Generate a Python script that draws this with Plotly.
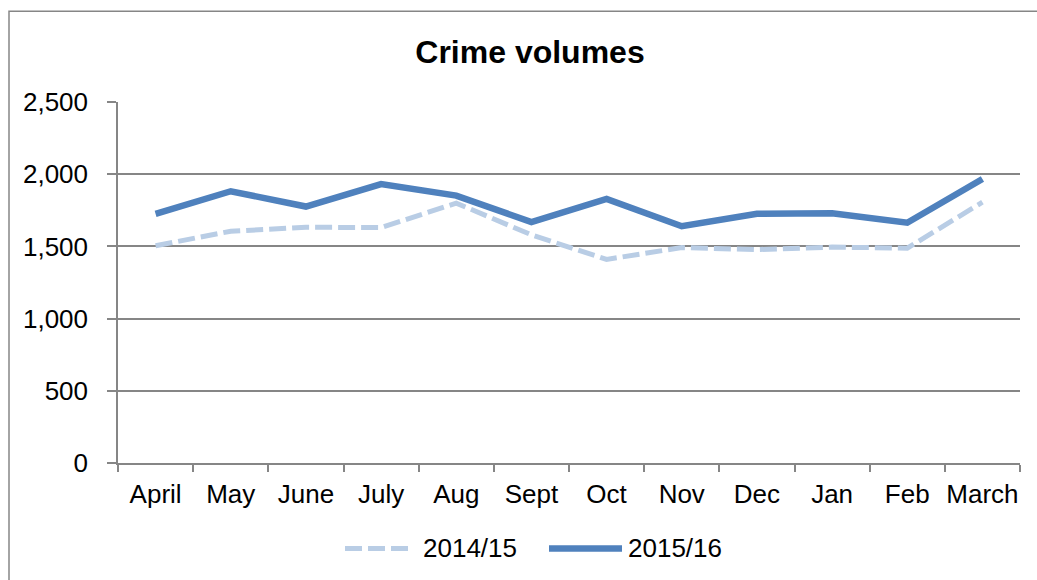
import plotly.graph_objects as go

# Monthly crime volumes, April to March
months = ["April", "May", "June", "July", "Aug", "Sept", "Oct", "Nov", "Dec", "Jan", "Feb", "March"]
vol_2014_15 = [1505, 1605, 1633, 1630, 1800, 1580, 1410, 1492, 1478, 1495, 1488, 1806]
vol_2015_16 = [1726, 1882, 1776, 1932, 1852, 1668, 1829, 1640, 1726, 1730, 1664, 1967]
series_names = ["2014/15", "2015/16"]

W, H = 1037, 580
ML, MR, MT, MB = 118, 17, 102, 116.5
PW, PH = W - ML - MR, H - MT - MB

LIGHT = "#B9CDE5"
DARK = "#4F81BD"
GREY = "#868686"
FONT = "Liberation Sans, Arial, sans-serif"


def px_x(p):
    return (p - ML) / PW


def px_y(p):
    return (H - MB - p) / PH


fig = go.Figure()
fig.add_trace(go.Scatter(
    x=months, y=vol_2014_15, mode="lines", name=series_names[0],
    line=dict(color=LIGHT, width=5, dash="17px,6px"), showlegend=False,
))
fig.add_trace(go.Scatter(
    x=months, y=vol_2015_16, mode="lines", name=series_names[1],
    line=dict(color=DARK, width=6.5), showlegend=False,
))

shapes = [
    # chart area border
    dict(type="rect", xref="paper", yref="paper",
         x0=px_x(9), x1=px_x(1060), y0=px_y(600), y1=px_y(11),
         line=dict(color=GREY, width=1.5), layer="below"),
    # legend samples
    dict(type="line", xref="paper", yref="paper",
         x0=px_x(345), x1=px_x(408), y0=px_y(549), y1=px_y(549),
         line=dict(color=LIGHT, width=5, dash="17px,6px")),
    dict(type="line", xref="paper", yref="paper",
         x0=px_x(549), x1=px_x(622), y0=px_y(549), y1=px_y(549),
         line=dict(color=DARK, width=6.5)),
]

annotations = [
    dict(text=series_names[0], xref="paper", yref="paper", x=px_x(421), y=px_y(549),
         xanchor="left", yanchor="middle", showarrow=False,
         font=dict(family=FONT, size=26, color="#000000")),
    dict(text=series_names[1], xref="paper", yref="paper", x=px_x(626), y=px_y(549),
         xanchor="left", yanchor="middle", showarrow=False,
         font=dict(family=FONT, size=26, color="#000000")),
]

fig.update_layout(
    width=W, height=H,
    margin=dict(l=ML, r=MR, t=MT, b=MB, pad=0),
    paper_bgcolor="white", plot_bgcolor="white",
    font=dict(family=FONT, size=26, color="#000000"),
    title=dict(text="<b>Crime volumes</b>", xref="paper", yref="container",
               x=px_x(530), xanchor="center", y=1 - 52 / H, yanchor="middle",
               font=dict(family=FONT, size=32, color="#000000")),
    shapes=shapes, annotations=annotations,
    xaxis=dict(
        type="category", tickson="boundaries", ticks="outside", ticklen=7,
        tickcolor=GREY, tickwidth=1.5, showline=True, linecolor=GREY, linewidth=1.5,
        showgrid=False, tickfont=dict(size=26), ticklabelstandoff=7,
        tickangle=0, automargin=False, range=[-0.5, 11.5],
    ),
    yaxis=dict(
        range=[0, 2500], dtick=500, tickformat=",", ticks="outside", ticklen=9,
        tickcolor=GREY, tickwidth=1.5, showline=True, linecolor=GREY, linewidth=1.5,
        showgrid=True, gridcolor=GREY, gridwidth=1.5, zeroline=False,
        tickfont=dict(size=26), ticklabelstandoff=14, automargin=False,
    ),
)

fig.write_html("out.html")
